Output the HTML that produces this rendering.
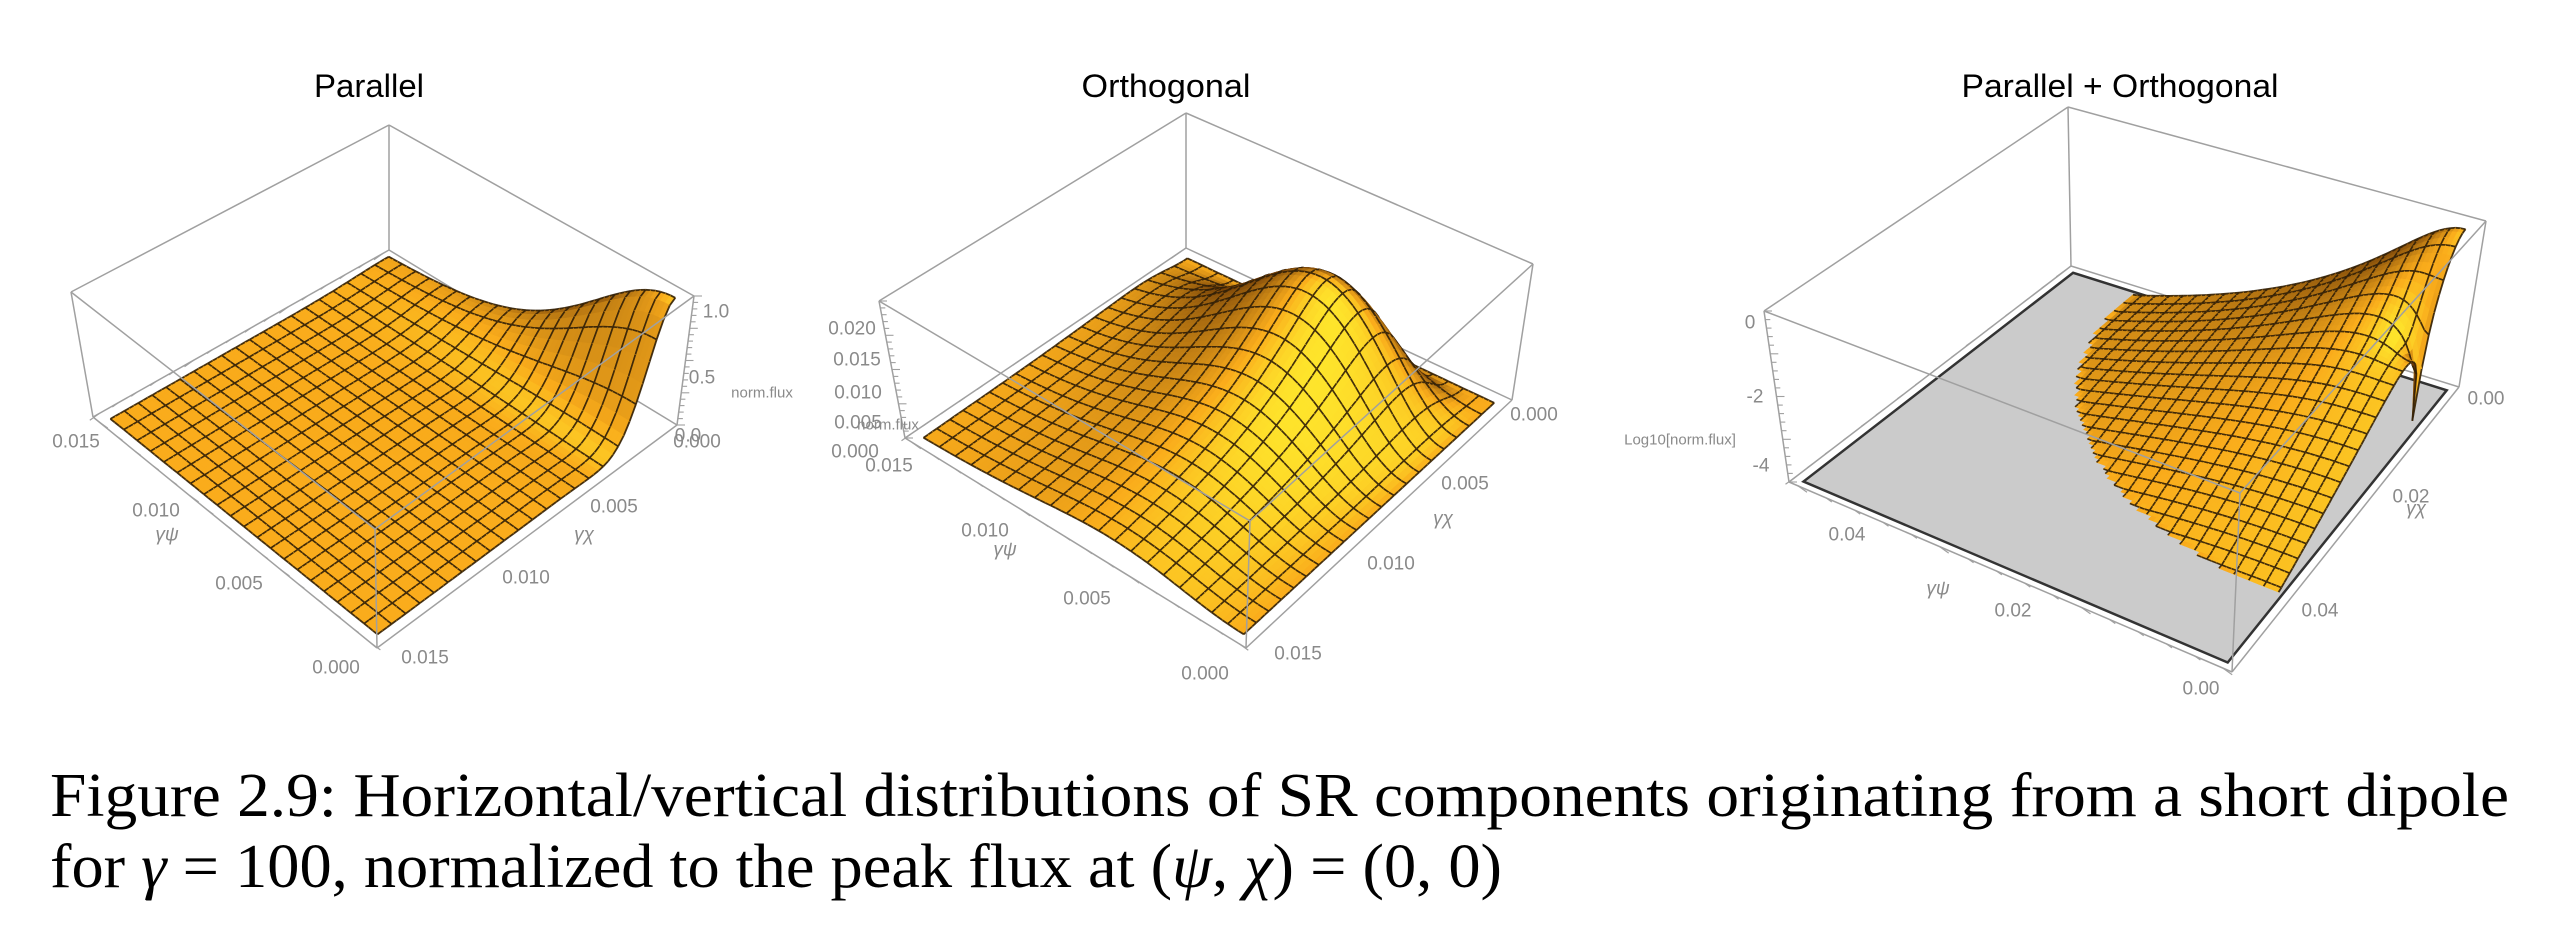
<!DOCTYPE html>
<html><head><meta charset="utf-8">
<style>
html,body{margin:0;padding:0;background:#fff;}
svg{display:block;}
.t{font-family:"Liberation Sans",sans-serif;font-size:19px;fill:#8a8a8a;}
.ti{font-family:"Liberation Sans",sans-serif;font-size:32px;fill:#000;}
.cap{font-family:"Liberation Serif",serif;font-size:62px;fill:#000;}
</style></head>
<body>
<svg id="s" width="2568" height="930" viewBox="0 0 2568 930" xmlns="http://www.w3.org/2000/svg">
<g id="g0"></g><g id="g1"></g><g id="g2"></g>
<text class="ti" x="369" y="97" text-anchor="middle" textLength="110" lengthAdjust="spacingAndGlyphs">Parallel</text>
<text class="ti" x="1166" y="97" text-anchor="middle" textLength="169" lengthAdjust="spacingAndGlyphs">Orthogonal</text>
<text class="ti" x="2120" y="97" text-anchor="middle" textLength="317" lengthAdjust="spacingAndGlyphs">Parallel + Orthogonal</text>
<g class="t" text-anchor="middle" dominant-baseline="central">
<text x="716" y="312">1.0</text><text x="702" y="378">0.5</text><text x="688" y="436">0.0</text><text x="697" y="442">0.000</text>
<text x="762" y="393" font-size="15">norm.flux</text>
<text x="76" y="442">0.015</text><text x="156" y="511">0.010</text><text x="167" y="535" font-style="italic">γψ</text>
<text x="239" y="584">0.005</text><text x="336" y="668">0.000</text>
<text x="614" y="507">0.005</text><text x="584" y="535" font-style="italic">γχ</text><text x="526" y="578">0.010</text><text x="425" y="658">0.015</text>
<text x="852" y="329">0.020</text><text x="857" y="360">0.015</text><text x="858" y="393">0.010</text><text x="858" y="423">0.005</text>
<text x="888" y="425" font-size="15">norm.flux</text><text x="855" y="452">0.000</text><text x="889" y="466">0.015</text>
<text x="985" y="531">0.010</text><text x="1005" y="550" font-style="italic">γψ</text><text x="1087" y="599">0.005</text><text x="1205" y="674">0.000</text>
<text x="1534" y="415">0.000</text><text x="1465" y="484">0.005</text><text x="1443" y="519" font-style="italic">γχ</text><text x="1391" y="564">0.010</text><text x="1298" y="654">0.015</text>
<text x="1750" y="323">0</text><text x="1755" y="397">-2</text><text x="1761" y="466">-4</text>
<text x="1680" y="440" font-size="15">Log10[norm.flux]</text>
<text x="1847" y="535">0.04</text><text x="1938" y="589" font-style="italic">γψ</text><text x="2013" y="611">0.02</text><text x="2201" y="689">0.00</text>
<text x="2486" y="399">0.00</text><text x="2411" y="497">0.02</text><text x="2416" y="509" font-style="italic">γχ</text><text x="2320" y="611">0.04</text>
</g>
<text class="cap" x="50" y="816" textLength="2459" lengthAdjust="spacingAndGlyphs">Figure 2.9: Horizontal/vertical distributions of SR components originating from a short dipole</text>
<text class="cap" x="50" y="887" textLength="1452" lengthAdjust="spacingAndGlyphs">for <tspan font-style="italic">γ</tspan> = 100, normalized to the peak flux at (<tspan font-style="italic">ψ</tspan>, <tspan font-style="italic">χ</tspan>) = (0, 0)</text>
</svg>
<script>
(function(){
function sig(X,Y){var d=1+X*X+Y*Y;var a=1-X*X+Y*Y;return a*a/Math.pow(d,5);}
function pi(X,Y){var d=1+X*X+Y*Y;return 4*X*X*Y*Y/Math.pow(d,5);}
var panels=[
{g:'g0',B:[389,250],L:[93,417],R:[677,425],F:[377,648],TB:[389,125],TL:[71,292],TR:[694,296],TF:[375,529],N:60,M:20,
 f:function(p,q){return sig(4*p,1.5*q);},zt:'R'},
{g:'g1',B:[1186,248],L:[905,438],R:[1512,400],F:[1246,648],TB:[1186,113],TL:[879,301],TR:[1533,264],TF:[1250,521],N:60,M:20,
 f:function(p,q){var r=p/0.2,s=q/0.42;var g=4*r*r/((1+r*r)*(1+r*r));var h=s*s*Math.exp(1-s*s);return 0.8*g*h;},zt:'L'},
{g:'g2',B:[2071,266],L:[1789,482],R:[2459,387],F:[2232,672],TB:[2068,107],TL:[1764,311],TR:[2486,221],TF:[2240,493],N:81,M:27,
 f:function(p,q){var v=sig(7.5*p,6.9*q)+pi(7.5*p,6.9*q);var l=Math.log(v)/Math.LN10;return (l+4.6)/4.7;},zt:'L',grey:true}
];
function bil(c,p,q){var R=c.R,F=c.F,B=c.B,L=c.L;
 return [R[0]*(1-p)*(1-q)+F[0]*p*(1-q)+B[0]*(1-p)*q+L[0]*p*q, R[1]*(1-p)*(1-q)+F[1]*p*(1-q)+B[1]*(1-p)*q+L[1]*p*q];}
function bilT(c,p,q){var R=c.TR,F=c.TF,B=c.TB,L=c.TL;
 return [R[0]*(1-p)*(1-q)+F[0]*p*(1-q)+B[0]*(1-p)*q+L[0]*p*q, R[1]*(1-p)*(1-q)+F[1]*p*(1-q)+B[1]*(1-p)*q+L[1]*p*q];}
function ln(a,b,col,w){return '<line x1="'+a[0].toFixed(1)+'" y1="'+a[1].toFixed(1)+'" x2="'+b[0].toFixed(1)+'" y2="'+b[1].toFixed(1)+'" stroke="'+col+'" stroke-width="'+w+'"/>';}
function mix(a,b,t){return [a[0]+(b[0]-a[0])*t,a[1]+(b[1]-a[1])*t,a[2]+(b[2]-a[2])*t];}
function col(t){var c;if(t>=0.7)c=mix([250,172,28],[255,232,45],Math.min(1,(t-0.7)/0.3));else c=mix([95,48,6],[250,172,28],Math.max(0,t)/0.7);
 return 'rgb('+(c[0]|0)+','+(c[1]|0)+','+(c[2]|0)+')';}
var lx=0.45,ly=-0.55,lz=0.72,ll=Math.sqrt(lx*lx+ly*ly+lz*lz);lx/=ll;ly/=ll;lz/=ll;
panels.forEach(function(c){
 var s='',bx='#a0a0a0';
 s+=ln(c.TB,c.TL,bx,1.5)+ln(c.TB,c.TR,bx,1.5)+ln(c.TB,c.B,bx,1.5)+ln(c.B,c.L,bx,1.5)+ln(c.B,c.R,bx,1.5)+ln(c.TL,c.L,bx,1.5)+ln(c.TR,c.R,bx,1.5);
 s+=ln(c.L,c.F,bx,1.5)+ln(c.F,c.R,bx,1.5);
 for(var k=0;k<=15;k++){var t=k/15;
  var a=bil(c,0.02+0.96*t,1),d=[-7,5];s+=ln(a,[a[0]+d[0]*(k%5==0?1.3:0.8),a[1]+d[1]*(k%5==0?1.3:0.8)],bx,1.2);
  var b=bil(c,1,0.02+0.96*t);d=[7,5];s+=ln(b,[b[0]+d[0]*(k%5==0?1.3:0.8),b[1]+d[1]*(k%5==0?1.3:0.8)],bx,1.2);}
 for(var k=0;k<=20;k++){var t=k/20;var A;
  if(c.zt=='R'){A=[c.R[0]+(c.TR[0]-c.R[0])*t,c.R[1]+(c.TR[1]-c.R[1])*t];s+=ln(A,[A[0]+(k%5==0?8:5),A[1]],bx,1.1);}
  else{A=[c.L[0]+(c.TL[0]-c.L[0])*t,c.L[1]+(c.TL[1]-c.L[1])*t];s+=ln(A,[A[0]+(k%5==0?8:5),A[1]],bx,1.1);}}
 var inset=0.03,sc=1-2*inset;
 if(c.grey){var pts=[bil(c,0.02,0.02),bil(c,0.98,0.02),bil(c,0.98,0.98),bil(c,0.02,0.98)];
  s+='<polygon points="'+pts.map(function(p){return p[0].toFixed(1)+','+p[1].toFixed(1);}).join(' ')+'" fill="#cbcbcb" stroke="#333" stroke-width="2.5"/>';}
 var N=c.N,st=N/c.M,Z=[];
 for(var i=0;i<=N;i++){Z[i]=[];for(var j=0;j<=N;j++){var v=c.f(i/N,j/N);if(!isFinite(v))v=-10;Z[i][j]=v;}}
 function P(i,j){var p=inset+sc*i/N,q=inset+sc*j/N;var z=Math.max(0,Math.min(1.02,Z[i][j]));var a=bil(c,p,q),b=bilT(c,p,q);return [a[0]+z*(b[0]-a[0]),a[1]+z*(b[1]-a[1])];}
 var cells=[];for(var i=0;i<N;i++)for(var j=0;j<N;j++)cells.push([i,j]);
 cells.sort(function(a,b){return (b[1]-b[0])-(a[1]-a[0]);});
 var mc='rgba(50,32,8,0.9)',mw=1.6;
 cells.forEach(function(cl){var i=cl[0],j=cl[1];
  if(c.grey&&Z[i][j]<0&&Z[i+1][j]<0&&Z[i][j+1]<0&&Z[i+1][j+1]<0)return;
  var zc=function(v){return Math.max(0,Math.min(1.02,v));};
  var dzp=(zc(Z[i+1][j])+zc(Z[i+1][j+1])-zc(Z[i][j])-zc(Z[i][j+1]))/2*N;
  var dzq=(zc(Z[i][j+1])+zc(Z[i+1][j+1])-zc(Z[i][j])-zc(Z[i+1][j]))/2*N;
  var k=0.5,nx=-k*dzp,ny=-k*dzq,nz=1,nl=Math.sqrt(nx*nx+ny*ny+1);
  var I=(nx*lx+ny*ly+nz*lz)/nl;I=I/(lz)*0.7;
  var a=P(i,j),b=P(i+1,j),cc=P(i+1,j+1),d=P(i,j+1),cl2=col(I);
  s+='<polygon points="'+[a,b,cc,d].map(function(p){return p[0].toFixed(1)+','+p[1].toFixed(1);}).join(' ')+'" fill="'+cl2+'" stroke="'+cl2+'" stroke-width="0.7"/>';
  if(i%st==0)s+=ln(a,d,mc,i==0?1.8:mw);
  if((i+1)%st==0)s+=ln(b,cc,mc,(i+1)==N?1.8:mw);
  if(j%st==0)s+=ln(a,b,mc,j==0?1.8:mw);
  if((j+1)%st==0)s+=ln(d,cc,mc,(j+1)==N?1.8:mw);
 });
 s+=ln(c.TL,c.TF,bx,1.5)+ln(c.TR,c.TF,bx,1.5)+ln(c.TF,c.F,bx,1.5);
 document.getElementById(c.g).innerHTML=s;
});
})();
</script>
</body></html>
